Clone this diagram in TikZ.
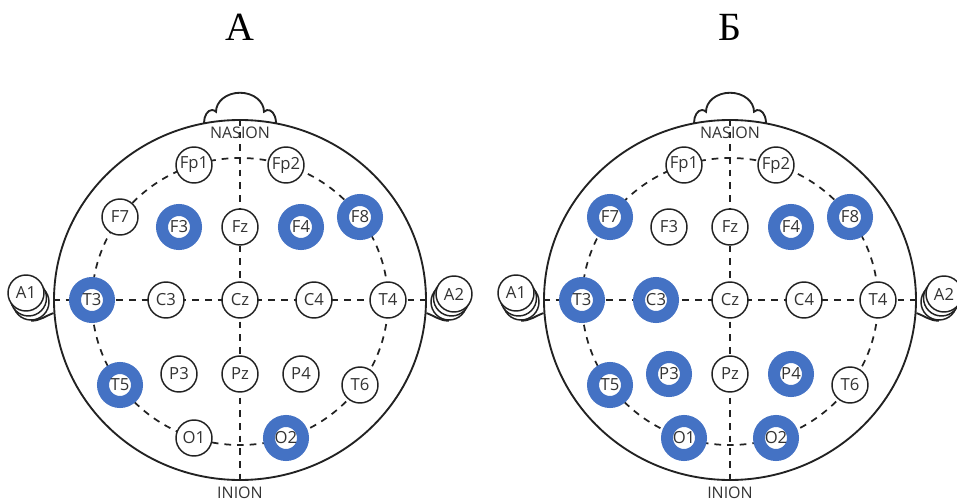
\documentclass[tikz,border=0pt]{standalone}
\usepackage{fontspec}
\setmainfont{Liberation Serif}
\newfontfamily\labelfont{Open Sans}
\usetikzlibrary{shapes.geometric}
\definecolor{Ink}{HTML}{222222}
\definecolor{Label}{HTML}{333333}
\definecolor{Lit}{HTML}{4472C4}
\tikzset{
  head/.style={draw=Ink,line width=1.4pt},
  scalp/.style={ellipse,draw=Ink,line width=1.4pt,minimum width=279pt,minimum height=270pt,inner sep=0pt},
  montage/.style={ellipse,draw=Ink,line width=1.3pt,dash pattern=on 5pt off 4.5pt,minimum width=222pt,minimum height=215.25pt,inner sep=0pt},
  guide/.style={draw=Ink,line width=1.3pt,dash pattern=on 5pt off 4.5pt},
  site/.style={circle,draw=Ink,fill=white,line width=1.1pt,minimum size=27pt,inner sep=0pt,text=Label,font=\labelfont\fontsize{12.5}{14}\selectfont},
  lit/.style={site,draw=Lit,line width=9pt,minimum size=25.5pt},
  landmark/.style={text=Label,inner sep=0pt,font=\labelfont\fontsize{12}{14}\selectfont},
  title/.style={inner sep=0pt,font=\fontsize{30}{34}\selectfont}
}
\begin{document}
\begin{tikzpicture}[x=0.75pt,y=0.75pt]
\useasboundingbox (0,0) rectangle (957,501);
\clip (0,0) rectangle (957,501);
% outline, nose, ears and guide lines of both heads
\foreach \headx/\hpre/\hname in {240/a/А,730/b/Б}{
  \begin{scope}[shift={(\headx,201)}]
    \node[title] (\hpre-title) at (0,273) {\hname};
    \foreach \s/\d in {L/-1,R/1}{
      \node[site] (\hpre-\s-lobe2) at (\d*209,-2) {};
      \node[site] (\hpre-\s-lobe1) at (\d*211.5,2) {};
    }
    \node[scalp] (\hpre-head) at (0,0) {};
    \draw[head] (\hpre-L-lobe2.south) to[out=0,in=200] (\hpre-head.184);
    \draw[head] (\hpre-R-lobe2.south) to[out=180,in=-20] (\hpre-head.-4);
    \draw[head] (-36,177) arc[start angle=180,end angle=60,x radius=8,y radius=13]
      arc[start angle=180,end angle=0,x radius=24,y radius=19]
      arc[start angle=120,end angle=0,x radius=8,y radius=13];
    \node[montage] (\hpre-ring) at (0,-1.5) {};
    \draw[guide] (\hpre-head.west) -- (\hpre-head.east);
    \draw[guide] (\hpre-head.north) -- (\hpre-head.south);
    \node[landmark] (\hpre-nasion) at (0,167) {NASION};
    \node[landmark] (\hpre-inion) at (0,-193) {INION};
  \end{scope}
}
% 10-20 sites: style in head A / style in head B
\foreach \n/\x/\y/\sa/\sb in {Fp1/-46/135/site/site,Fp2/46/135/site/site,
    F7/-120/83/site/lit,F3/-61/73/lit/site,Fz/0/73/site/site,F4/61/73/lit/lit,F8/120/83/lit/lit,
    A1/-214/7/site/site,T3/-148/0/lit/lit,C3/-74/0/site/lit,Cz/0/0/site/site,
    C4/74/0/site/site,T4/148/0/site/site,A2/214/6/site/site,
    T5/-120/-85/lit/lit,P3/-61/-74/site/lit,Pz/0/-74/site/site,P4/61/-74/site/lit,T6/120/-85/site/site,
    O1/-46/-138/site/lit,O2/46/-138/lit/lit}{
  \node[\sa] (a-\n) at (240+\x,201+\y) {\n};
  \node[\sb] (b-\n) at (730+\x,201+\y) {\n};
}
\end{tikzpicture}
\end{document}
